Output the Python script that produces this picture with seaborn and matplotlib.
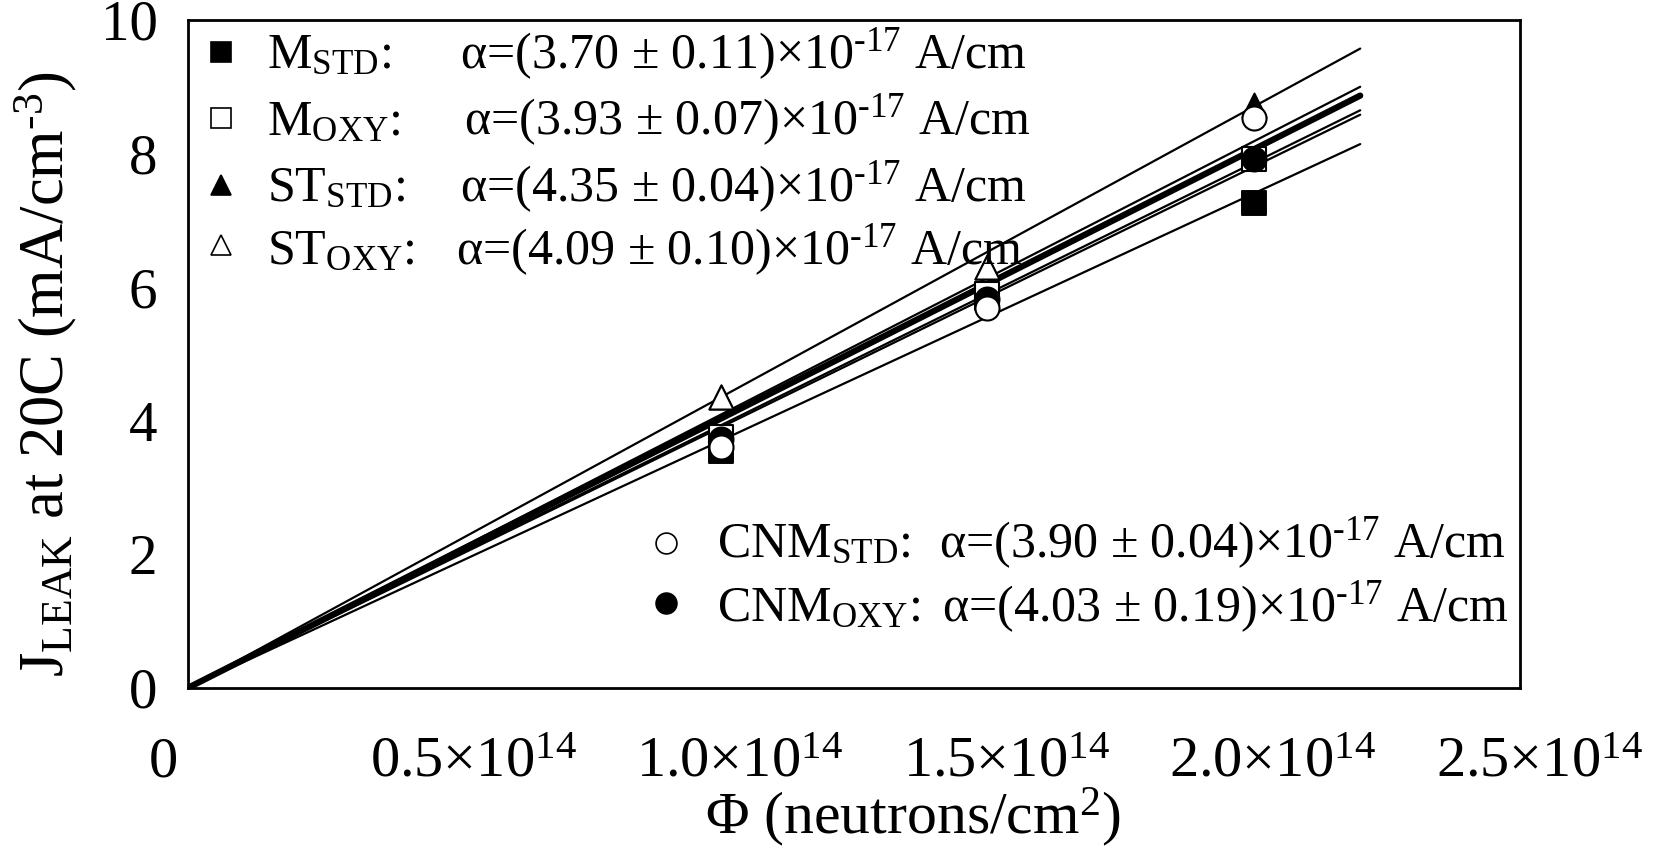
import numpy as np
import matplotlib
matplotlib.use('Agg')
import matplotlib.pyplot as plt
import matplotlib.transforms as mtransforms
from matplotlib.ticker import MultipleLocator
import seaborn as sns

sns.set_theme(style='white')
plt.rcParams['font.family'] = ['Liberation Serif', 'DejaVu Serif']
plt.rcParams['mathtext.fontset'] = 'custom'
plt.rcParams['mathtext.rm'] = 'Liberation Serif'
plt.rcParams['mathtext.it'] = 'Liberation Serif:italic'
plt.rcParams['mathtext.default'] = 'rm'
plt.rcParams['text.color'] = 'black'
plt.rcParams['axes.labelcolor'] = 'black'
plt.rcParams['xtick.color'] = 'black'
plt.rcParams['ytick.color'] = 'black'

# measured points (fluence in n/cm2, J_leak in mA/cm3)
m_std_phi = [1.0e14, 1.5e14, 2.0e14]
m_std_j = [3.55, 5.84, 7.26]
m_oxy_phi = [1.0e14, 1.5e14, 2.0e14]
m_oxy_j = [3.75, 5.90, 7.92]
st_std_phi = [1.0e14, 1.5e14, 2.0e14]
st_std_j = [4.36, 6.30, 8.73]
st_oxy_phi = [1.0e14, 1.5e14]
st_oxy_j = [4.36, 6.30]
cnm_oxy_phi = [1.0e14, 1.5e14, 2.0e14]
cnm_oxy_j = [3.73, 5.82, 7.92]
cnm_std_phi = [1.0e14, 1.5e14, 2.0e14]
cnm_std_j = [3.61, 5.69, 8.53]

# fitted damage constants (x1e-17 A/cm)
names = ['M', 'M', 'ST', 'ST', 'CNM', 'CNM']
subs = ['STD', 'OXY', 'STD', 'OXY', 'STD', 'OXY']
alpha = [3.70, 3.93, 4.35, 4.09, 3.90, 4.03]
alpha_err = [0.11, 0.07, 0.04, 0.10, 0.04, 0.19]
fit_phi = [0, 2.2e14]

xticks = [0, 0.5e14, 1.0e14, 1.5e14, 2.0e14, 2.5e14]
xticklabels = ['0', '0.5×10$^{14}$', '1.0×10$^{14}$', '1.5×10$^{14}$',
               '2.0×10$^{14}$', '2.5×10$^{14}$']
yticks = [0, 2, 4, 6, 8, 10]

fig = plt.figure(figsize=(16.64, 8.63), dpi=100)
ax = fig.add_axes([0.113, 0.203, 0.8005, 0.774])

# fit lines J = alpha * phi
for i, a in enumerate(alpha):
    xs = np.array(fit_phi)
    lw = 4.5 if i == 5 else 1.6
    sns.lineplot(x=xs, y=a * 1e-17 * xs * 1e3, ax=ax, color='black', lw=lw)

ms = 300
sns.scatterplot(x=m_std_phi, y=m_std_j, ax=ax, marker='s', s=ms, color='black', edgecolor='black', zorder=3)
sns.scatterplot(x=m_oxy_phi, y=m_oxy_j, ax=ax, marker='s', s=ms, color='white', edgecolor='black', linewidth=1.5, zorder=3)
sns.scatterplot(x=st_std_phi, y=st_std_j, ax=ax, marker='^', s=ms, color='black', edgecolor='black', zorder=3)
sns.scatterplot(x=st_oxy_phi, y=st_oxy_j, ax=ax, marker='^', s=ms, color='white', edgecolor='black', linewidth=1.5, zorder=3)
sns.scatterplot(x=cnm_oxy_phi, y=cnm_oxy_j, ax=ax, marker='o', s=ms, color='black', edgecolor='black', zorder=3)
sns.scatterplot(x=cnm_std_phi, y=cnm_std_j, ax=ax, marker='o', s=ms, color='white', edgecolor='black', linewidth=1.5, zorder=3)

# hand-made legend
fs = 36
leg_marker = [('s', 'black'), ('s', 'white'), ('^', 'black'), ('^', 'white'), ('o', 'white'), ('o', 'black')]
mark_xy = [(0.0248, 0.952), (0.0248, 0.853), (0.0248, 0.753), (0.0248, 0.663), (0.359, 0.217), (0.359, 0.127)]
name_xy = [(0.0593, 0.928), (0.0593, 0.828), (0.0593, 0.729), (0.0593, 0.634), (0.397, 0.196), (0.397, 0.100)]
alpha_x = [0.204, 0.207, 0.204, 0.201, 0.564, 0.566]
for i in range(6):
    mk, fc = leg_marker[i]
    ax.plot(*mark_xy[i], marker=mk, ms=15, mfc=fc, mec='black', mew=1.2,
            transform=ax.transAxes, clip_on=False)
    ax.text(name_xy[i][0], name_xy[i][1], names[i] + '$_{\\rm ' + subs[i] + '}$:',
            transform=ax.transAxes, fontsize=fs, va='baseline')
    ax.text(alpha_x[i], name_xy[i][1],
            'α=(%.2f ± %.2f)×10$^{\\text{-}17}$ A/cm' % (alpha[i], alpha_err[i]),
            transform=ax.transAxes, fontsize=fs, va='baseline')

ax.set_xlim(0, 2.5e14)
ax.set_ylim(0, 10)
ax.set_xticks(xticks)
ax.set_xticklabels(xticklabels, fontsize=42)
ax.set_yticks(yticks)
ax.set_yticklabels([str(v) for v in yticks], fontsize=41)
ax.xaxis.set_minor_locator(MultipleLocator(0.1e14))
ax.yaxis.set_minor_locator(MultipleLocator(1))
ax.tick_params(which='major', direction='in', length=13, width=1.3, color='black', pad=22)
ax.tick_params(which='minor', direction='in', length=9, width=1.1, color='black')
ax.tick_params(axis='x', which='major', pad=35)
for sp in ax.spines.values():
    sp.set_color('black')
    sp.set_linewidth(2)

for lab, tx in zip(ax.get_xticklabels(), xticks):
    dx = -0.25 if tx == 0 else 0.19
    lab.set_transform(lab.get_transform() + mtransforms.ScaledTranslation(dx, 0, fig.dpi_scale_trans))

ax.set_xlabel('Φ (neutrons/cm$^{2}$)', fontsize=43)
ax.xaxis.set_label_coords(0.544, -0.145)
ax.set_ylabel('J$_{\\rm LEAK}$ at 20C (mA/cm$^{\\text{-}3}$)', fontsize=45)
ax.yaxis.set_label_coords(-0.082, 0.47)

fig.savefig('out.png', dpi=100, facecolor='white')
